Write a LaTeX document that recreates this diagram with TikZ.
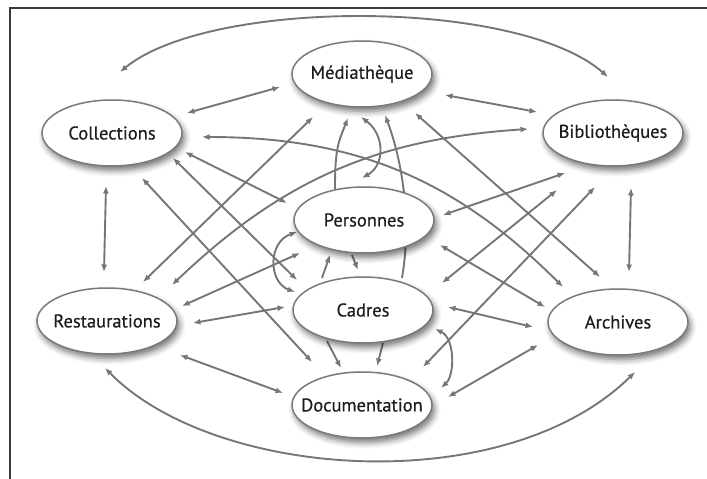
\documentclass[tikz,border=0pt]{standalone}
\usepackage{fontspec}
\setmainfont{PT Sans}
\newfontfamily\topicfont[BoldFont={PT Sans}, BoldFeatures={FakeBold=0.5}]{PT Sans}
\usetikzlibrary{shapes.geometric,arrows.meta,calc,shadows.blur}
\definecolor{edgegray}{HTML}{767676}
\definecolor{rimgray}{HTML}{7A7A7A}
\definecolor{labelink}{HTML}{1E1E1E}
\definecolor{framegray}{HTML}{3A3A3A}
\pgfdeclarelayer{edges}
\pgfsetlayers{edges,main}
% label of fixed zero width, so every ellipse keeps the same size
\newcommand{\topiclabel}[1]{\makebox[0pt][c]{#1}}
\begin{document}
\begin{tikzpicture}[x=1pt,y=-1pt,
  topic/.style={ellipse, draw=rimgray, line width=1.5pt, fill=white,
    minimum width=140pt, minimum height=66pt, inner sep=0pt,
    text=labelink, font=\topicfont\bfseries\fontsize{18.5}{21}\selectfont,
    blur shadow={shadow xshift=2.5pt, shadow yshift=-4.5pt,
      shadow blur radius=6pt, shadow opacity=55}},
  tip/.tip={Latex[length=7.5pt,width=6pt]},
  link/.style={draw=edgegray, line width=1.9pt, tip-tip},
  onelink/.style={draw=edgegray, line width=1.9pt, -tip}
]
\useasboundingbox (0,0) rectangle (707,479);

% frame edges
\draw[framegray, line width=1.3pt] (10,479) -- (10,8) -- (707,8);

% topics
\node[topic] (med)  at (362,74)  {\topiclabel{Médiathèque}};
\node[topic] (coll) at (112,133) {\topiclabel{Collections}};
\node[topic] (bib)  at (613,133) {\topiclabel{Bibliothèques}};
\node[topic] (pers) at (364,220) {\topiclabel{Personnes}};
\node[topic] (cad)  at (363,310) {\topiclabel{Cadres}};
\node[topic] (rest) at (107,321) {\topiclabel{Restaurations}};
\node[topic] (arch) at (618,322) {\topiclabel{Archives}};
\node[topic] (doc)  at (362,405) {\topiclabel{Documentation}};

\begin{pgfonlayer}{edges}
% outer arcs
\draw[link] ($(coll)+(8,-61)$) .. controls +(90,-74) and +(-90,-79) .. ($(bib)+(-5,-56)$);
\draw[link] ($(rest)+(-2,47)$) .. controls +(110,112) and +(-130,128) .. ($(arch)+(17,50)$);

% sweeping curves across the middle
\draw[link] ($(rest)+(65,-36)$) .. controls +(110,-105) and +(-152,10) .. ($(bib)+(-85,-4)$);
\draw[link] ($(coll)+(90,4)$) .. controls +(153,0) and +(-108,-108) .. ($(arch)+(-55,-35)$);

% straight links
\draw[link] ($(coll)+(-6,53)$) -- ($(rest)+(-3,-49)$);
\draw[link] ($(bib)+(18,55)$) -- ($(arch)+(11,-50)$);
\draw[link] ($(coll)+(75,-20)$) -- ($(med)+(-82,13)$);
\draw[link] ($(med)+(83,21)$) -- ($(bib)+(-76,-21)$);
\draw[link] ($(rest)+(73,34)$) -- ($(doc)+(-79,-12)$);
\draw[link] ($(doc)+(86,-8)$) -- ($(arch)+(-80,23)$);
\draw[link] ($(rest)+(86,2)$) -- ($(cad)+(-78,-3)$);
\draw[link] ($(cad)+(85,-3)$) -- ($(arch)+(-85,5)$);
\draw[link] ($(rest)+(75,-15)$) -- ($(pers)+(-64,33)$);
\draw[link] ($(pers)+(79,-5)$) -- ($(bib)+(-48,40)$);
\draw[link] ($(coll)+(73,19)$) -- ($(pers)+(-77,-17)$);
\draw[link] ($(pers)+(76,25)$) -- ($(arch)+(-73,-15)$);
\draw[link] ($(coll)+(61,25)$) -- ($(cad)+(-66,-30)$);
\draw[link] ($(bib)+(-56,57)$) -- ($(cad)+(79,-27)$);
\draw[link] ($(coll)+(30,45)$) -- ($(doc)+(-50,-43)$);
\draw[link] ($(bib)+(-18,54)$) -- ($(doc)+(61,-38)$);
\draw[link] ($(rest)+(36,-39)$) -- ($(med)+(-49,43)$);
\draw[link] ($(med)+(53,39)$) -- ($(arch)+(-18,-45)$);

% central column
\draw[onelink] ($(pers)+(-29,-31)$) .. controls +(0,-40) and +(-10,25) .. ($(med)+(-14,44)$);
\draw[link] ($(med)+(-1,43)$) .. controls +(24,18) and +(23,-13) .. ($(pers)+(-2,-42)$);
\draw[onelink] ($(cad)+(39,-32)$) .. controls +(10,-58) and +(17,45) .. ($(med)+(23,41)$);
\draw[link] ($(pers)+(-67,12)$) .. controls +(-29,10) and +(-27,-10) .. ($(cad)+(-68,-18)$);
\draw[link] ($(cad)+(72,19)$) .. controls +(20,9) and +(14,-13) .. ($(doc)+(79,-17)$);
\draw[onelink] ($(pers)+(-12,35)$) -- ($(cad)+(-5,-40)$);
\draw[onelink] ($(cad)+(-41,-32)$) -- ($(pers)+(-34,35)$);
\draw[onelink] ($(cad)+(-36,31)$) -- ($(doc)+(-21,-37)$);
\draw[onelink] ($(cad)+(20,33)$) -- ($(doc)+(15,-39)$);
\end{pgfonlayer}
\end{tikzpicture}
\end{document}
